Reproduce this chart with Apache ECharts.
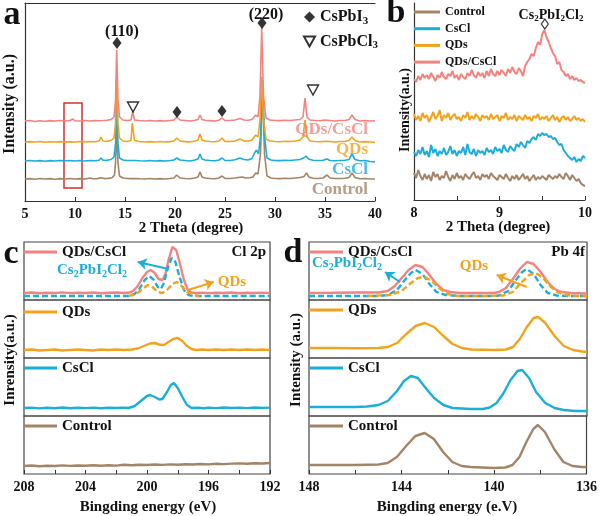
<!DOCTYPE html>
<html><head><meta charset="utf-8">
<script src="https://cdn.jsdelivr.net/npm/echarts@6/dist/echarts.min.js"></script>
<style>html,body{margin:0;padding:0;background:#fff}#main{width:600px;height:516px}</style>
</head><body><div id="main"></div>
<script>
// ---------- Panel a: XRD (2 Theta, raw height above each trace's baseline) ----------
const aNames = ['Control', 'CsCl', 'QDs', 'QDs/CsCl'];
const aOffsets = [22, 40, 59, 80];
const aControl = [[5,0],[5.5,0.4],[6,-0.3],[6.5,0.5],[7,0],[7.5,0.4],[8,-0.2],[8.5,0.4],[9,0],[9.5,0.5],[10,0],[10.5,0.4],[11,0],[11.5,1],[11.8,0.2],[12.2,0.4],[12.6,1.2],[12.9,0.4],[13.3,0.6],[13.7,1.2],[13.95,4],[14.05,16],[14.17,50],[14.3,16],[14.45,3],[14.8,1],[15.2,0.5],[15.6,0.4],[16,0.5],[16.5,0.2],[17,0],[17.5,0.5],[18,0],[18.5,0.4],[19,0],[19.5,0.5],[19.9,1],[20.17,4],[20.5,1],[21,0.5],[21.5,0.2],[22,1],[22.3,2],[22.5,7],[22.7,2],[23,1],[23.5,0.5],[24,0.2],[24.4,1],[24.7,3],[25,0.6],[25.5,0.5],[26,1],[26.7,2],[27.1,1],[27.5,1.2],[27.8,2],[28.07,6],[28.3,5],[28.55,25],[28.75,92],[28.95,25],[29.2,3],[29.6,1],[30,0.5],[30.5,0.4],[31,0.8],[31.5,0.5],[32,1],[32.5,1.5],[32.9,2.5],[33.15,6],[33.4,2],[33.8,0.8],[34.3,0.5],[34.8,1],[35.2,4],[35.5,1],[36,0.5],[36.5,0.5],[37,0.8],[37.4,1.5],[37.7,6],[38.0,1.5],[38.5,0.3],[39,0.5],[39.5,0],[40,0]];
const aCsCl = [[5,0],[5.5,0.5],[6,0],[6.5,0.4],[7,-0.3],[7.5,0.4],[8,0],[8.5,0.5],[9,0.2],[9.5,0.4],[10,0],[10.5,0.5],[11,0],[11.5,0.5],[12,0.3],[12.4,0.8],[12.6,3],[12.8,0.8],[13.2,0.8],[13.6,1.5],[13.9,4],[14.05,17],[14.17,55],[14.3,17],[14.45,3],[14.8,1],[15.2,0.5],[15.6,0.5],[16,0.5],[16.5,0.2],[17,0],[17.5,0.5],[18,0],[18.5,0.4],[19,0],[19.5,0.5],[19.9,1],[20.17,3],[20.5,1],[21,0.5],[21.5,0],[22,1],[22.3,2],[22.5,7],[22.7,2],[23,1],[23.5,0.5],[24,0.3],[24.4,1],[24.7,3],[25,0.5],[25.5,0.5],[26,1.2],[26.5,3],[26.9,1.5],[27.3,1],[27.7,2.5],[27.95,8],[28.15,11],[28.35,7],[28.55,25],[28.75,81],[28.95,25],[29.2,3],[29.6,1],[30,0.5],[30.5,0.4],[31,0.8],[31.5,0.5],[32,1],[32.5,1.5],[32.85,3],[33.1,5],[33.35,2],[33.8,0.8],[34.3,0.5],[34.8,0.8],[35.2,2],[35.5,0.5],[36,0.2],[36.5,0.5],[37,0.8],[37.4,1.5],[37.7,7],[38.0,1.5],[38.5,0.3],[39,0.5],[39.5,-0.5],[40,-1]];
const aQDs = [[5,0],[5.5,0.4],[6,0],[6.5,0.5],[7,-0.3],[7.5,0.3],[8,0],[8.5,0.4],[9,0],[9.5,0.3],[10,0],[10.5,0.5],[11,0],[11.5,0.5],[12,0.3],[12.4,1],[12.6,5],[12.8,1],[13.2,0.8],[13.6,1.5],[13.9,4],[14.05,18],[14.17,66],[14.3,18],[14.45,4],[14.8,1],[15.2,0.5],[15.6,1.5],[15.72,19],[15.82,19],[15.95,1.5],[16.4,0.5],[17,0],[17.5,0.4],[18,0],[18.5,0.5],[19,0],[19.5,0.4],[19.9,1],[20.17,4],[20.5,1],[21,0.4],[21.5,0],[22,1],[22.3,2],[22.5,8],[22.7,2],[23,1],[23.5,0.5],[24,0.3],[24.4,1],[24.7,4],[25,0.5],[25.5,0.5],[26,1],[26.5,3],[26.9,1],[27.3,1],[27.7,2],[28.07,7],[28.3,5],[28.5,22],[28.67,65],[28.85,22],[29.1,3],[29.5,1],[30,0.5],[30.5,0.3],[31,0.8],[31.5,0.5],[32,1],[32.5,2],[32.8,5],[33.0,22],[33.2,5],[33.5,1],[34,0.5],[34.5,0.3],[35,0.8],[35.2,1.5],[35.5,0.5],[36,0],[36.5,0.5],[37,0.5],[37.4,1.5],[37.7,5],[38.0,1.5],[38.5,0],[39,0.4],[39.5,0],[40,-0.5]];
const aQDsCsCl = [[5,0],[5.5,0.5],[6,-0.5],[6.5,0.3],[7,-0.3],[7.5,0.4],[8,0],[8.5,0.5],[9,0],[9.5,0.4],[9.75,2],[10,0.3],[10.5,0],[11,0.5],[11.5,0],[12,0.4],[12.4,0.3],[12.6,2],[12.8,0.5],[13.2,0.8],[13.6,1.5],[13.9,4],[14.05,20],[14.17,71],[14.3,20],[14.45,4],[14.8,1],[15.2,0.5],[15.6,1],[15.77,9],[15.95,1],[16.4,0.5],[17,0],[17.5,0.5],[18,0],[18.5,0.4],[19,0],[19.5,0.5],[19.9,1],[20.17,4],[20.5,1],[21,0.5],[21.5,0],[22,0.8],[22.3,1.5],[22.5,6],[22.7,1.5],[23,0.8],[23.5,0.4],[24,0],[24.4,0.8],[24.7,3],[25,0.5],[25.5,0.5],[26,1],[26.5,2.5],[26.9,1],[27.3,0.8],[27.7,1.5],[28.07,6],[28.3,4],[28.5,25],[28.67,93],[28.85,25],[29.1,3],[29.5,1],[30,0.5],[30.5,0.4],[31,0.8],[31.5,0.5],[32,1],[32.5,1.5],[32.8,4],[33.0,23],[33.2,4],[33.5,1],[34,0.5],[34.5,0.3],[35,1],[35.2,2],[35.5,0.5],[36,0],[36.5,0.5],[37,0.5],[37.4,1.5],[37.7,6],[38.0,1.5],[38.5,0],[39,0.5],[39.5,0],[40,0.3]];
const aCurves = [aControl, aCsCl, aQDs, aQDsCsCl];
const aXTicks = [5, 10, 15, 20, 25, 30, 35, 40];
// phase markers (2 Theta, height) and red box
const aCsPbI3 = [[14.2,158],[28.7,178],[20.2,89],[24.7,90]];
const aCsPbCl3 = [[15.8,94],[33.8,111]];
const aBox = [[8.9,13],[10.7,98]];
const aEndLabels = [[39.3,11,'Control'],[39.3,31,'CsCl'],[39.3,51,'QDs'],[39.3,71,'QDs/CsCl']];

// ---------- Panel b: zoomed XRD 8-10 degree ----------
const bStart = 8, bStep = 0.025;
const bControl = [27,22,30,24,20,26,21,25,19,28,23,26,20,24,22,29,23,19,25,21,27,22,24,20,26,23,21,25,28,22,24,20,26,23,25,21,27,24,22,20,25,23,21,26,22,19,24,21,25,20,23,26,21,24,19,22,25,20,23,21,24,22,20,25,23,21,24,22,26,23,21,27,24,20,25,22,19,21,17,15,14];
const bCsCl = [48,44,50,46,53,45,49,43,55,47,51,44,49,46,52,45,48,54,46,50,44,49,47,53,45,56,48,46,51,44,50,47,49,45,52,48,50,46,53,49,51,47,55,50,48,54,51,49,56,53,58,55,52,59,57,61,63,60,66,64,67,65,66,63,64,61,62,58,55,56,50,47,44,42,40,43,38,41,39,44,42];
const bQDs = [86,80,84,79,87,82,85,78,83,88,81,84,90,79,85,82,87,80,84,86,81,83,79,85,82,88,80,84,81,86,83,79,85,82,84,80,86,81,83,85,79,84,82,87,80,83,81,85,79,84,82,80,85,81,83,79,84,82,86,80,83,81,84,79,82,85,80,83,78,82,84,80,83,79,81,84,80,82,79,81,78];
const bQDsCsCl = [121,118,124,120,126,122,125,121,127,123,119,125,122,128,123,121,126,124,129,122,125,120,126,123,121,127,124,130,125,122,128,124,127,122,129,124,131,126,124,129,125,130,127,124,131,127,133,128,126,132,129,124,134,138,141,146,144,152,158,155,166,170,163,158,152,147,144,136,138,130,128,124,126,121,124,120,122,119,120,118,117];
const bCurves = [bControl, bCsCl, bQDs, bQDsCsCl];
const bMarker = [[9.53,176]];

// ---------- Panel c: Cl 2p XPS ----------
const cQDsCsCl = [[208,7],[207.5,7.5],[207,6.8],[206.5,7.3],[206,7],[205.5,7.6],[205,6.9],[204.5,7.3],[204,7],[203.5,7.5],[203,6.8],[202.5,7.2],[202,7.5],[201.5,7],[201.2,7.2],[200.9,9],[200.6,14],[200.3,22],[200.0,28],[199.75,30],[199.5,27],[199.25,21],[199.0,20],[198.8,26],[198.6,40],[198.35,53],[198.1,50],[197.85,36],[197.6,20],[197.35,10],[197.1,7.5],[196.8,7],[196.4,7.4],[196,6.9],[195.5,7.3],[195,7],[194.5,7.5],[194,6.8],[193.5,7.3],[193,7],[192.5,7.4],[192,7]];
const cFitCs = [[208,4],[201.2,4],[200.8,6],[200.5,11],[200.15,20],[199.85,24],[199.55,20],[199.3,13],[199.1,11],[198.9,17],[198.65,32],[198.4,42],[198.15,38],[197.9,24],[197.6,10],[197.3,5],[197.0,4],[192,4]];
const cFitQDs = [[201.2,4],[200.7,6],[200.3,11],[199.95,15],[199.65,13],[199.3,8],[199.0,7],[198.7,10],[198.35,16],[198.05,18],[197.75,14],[197.4,8],[197.0,5],[196.6,4]];
const cQDs = [[208,8],[207.5,8.5],[207,7.5],[206.5,8],[206,8.5],[205.5,7.5],[205,8],[204.5,8.5],[204,8],[203.5,7.5],[203,8.5],[202.5,8],[202,8.5],[201.5,8],[201,8.5],[200.6,9.5],[200.2,12],[199.8,14.5],[199.5,15],[199.2,13.5],[198.9,13],[198.6,16],[198.3,19],[198.0,20],[197.7,17],[197.4,12],[197.1,9],[196.8,8],[196.4,8.5],[196,8],[195.5,8.5],[195,8],[194.5,8.5],[194,8],[193.5,8.5],[193,8],[192.5,8.5],[192,8]];
const cCsCl = [[208,8],[207.5,8.4],[207,7.6],[206.5,8.2],[206,7.8],[205.5,8.5],[205,7.7],[204.5,8.3],[204,7.9],[203.5,8.4],[203,7.8],[202.5,8.3],[202,8],[201.5,8.4],[201.2,8],[200.8,10],[200.4,15],[200.0,20],[199.8,21],[199.5,19],[199.2,16.5],[199.0,17],[198.7,24],[198.45,31],[198.25,33],[198.0,28],[197.7,19],[197.4,11],[197.1,8],[196.7,8.3],[196.3,7.8],[196,8.4],[195.5,7.9],[195,8.5],[194.5,8],[194,8.4],[193.5,7.9],[193,8.5],[192.5,8.1],[192,8.4]];
const cControl = [[208,8],[207.5,8.5],[207,7.8],[206.5,8.3],[206,8],[205.5,8.6],[205,8.1],[204.5,8.5],[204,8.2],[203.5,8.8],[203,8.3],[202.5,8.7],[202,8.4],[201.5,9.2],[201,8.8],[200.5,9.3],[200,9],[199.5,9.5],[199,9.1],[198.5,9.6],[198,9.3],[197.5,9.8],[197,9.5],[196.5,10],[196,9.6],[195.5,10.2],[195,9.9],[194.5,10.4],[194,10.6],[193.5,10.2],[193,10.8],[192.5,10.5],[192,11]];
const cArrowCs = [[198.6,31],[200.6,38]];
const cArrowQDs = [[197.35,10],[195.65,18]];

// ---------- Panel d: Pb 4f XPS ----------
const dQDsCsCl = [[148,7],[147,7.2],[146,7.5],[145,7.5],[144.6,9],[144.3,14],[144.0,22],[143.7,30],[143.4,35],[143.1,33],[142.8,25],[142.5,16],[142.2,10],[141.9,8],[141.5,7],[141,7],[140.5,7],[140,7],[139.8,8],[139.5,12],[139.2,21],[138.9,31],[138.6,38],[138.3,36],[138.0,28],[137.7,18],[137.4,11],[137.1,8],[136.7,7],[136,6.5]];
const dFitCs = [[148,4],[146,4],[145,4],[144.6,5],[144.2,10],[143.9,19],[143.6,27],[143.4,30],[143.1,26],[142.8,16],[142.5,8],[142.1,5],[141.5,4],[140,4],[139.8,4.5],[139.4,9],[139.1,19],[138.8,28],[138.6,31],[138.3,26],[138.0,15],[137.7,7],[137.3,4.5],[136.8,4],[136,4]];
const dFitQDs = [[145.5,4],[144.5,5],[144.0,9],[143.6,17],[143.3,22],[143.0,23],[142.7,19],[142.4,12],[142.0,6],[141.6,4],[140.5,4],[139.6,4.5],[139.2,8],[138.9,16],[138.5,25],[138.2,27],[137.9,22],[137.6,14],[137.3,8],[136.9,5],[136.5,4],[136,4]];
const dQDs = [[148,10],[147,10],[146,9.8],[145,10],[144.6,11],[144.2,15],[143.8,24],[143.4,32],[143.0,35],[142.6,31],[142.2,22],[141.8,14],[141.4,10],[141,8.5],[140,8],[139.5,8.5],[139.2,11],[138.9,19],[138.6,31],[138.3,40],[138.1,41],[137.8,35],[137.4,22],[137.0,12],[136.6,8],[136.2,6.5],[136,6]];
const dCsCl = [[148,9],[147,9],[146,9],[145.5,9.5],[145,11],[144.6,15],[144.2,25],[143.9,35],[143.6,40],[143.3,38],[143.0,29],[142.6,18],[142.2,11],[141.8,8],[141,7],[140.5,7],[140.2,8.5],[139.9,13],[139.6,23],[139.3,36],[139.0,45],[138.8,46],[138.5,38],[138.2,24],[137.8,13],[137.4,8],[137,6],[136.5,5],[136,5]];
const dControl = [[148,9],[147,9],[146,9],[145,9.5],[144.6,11],[144.2,17],[143.8,28],[143.4,38],[143.0,41],[142.6,35],[142.2,22],[141.8,12],[141.4,8],[141,7],[140,6],[139.5,6.5],[139.2,9],[138.9,17],[138.6,32],[138.3,45],[138.1,49],[137.8,42],[137.4,25],[137.0,12],[136.6,8],[136.2,7],[136,7]];
const dArrowCs = [[144.07,18],[144.72,28]];
const dArrowQDs = [[138.6,13],[139.9,25]];

// ---------- styling ----------
const FONT = '"Liberation Serif","Times New Roman",serif';
const COL = {'Control':'#A48467','CsCl':'#1AAEDD','QDs':'#F2A31B','QDs/CsCl':'#F4837F'};
const RED = '#D42F2F';
const AX = '#333';
// rich styles for ECharts components (use "color")
function richStyle(color, size) {
  return {
    n: {fontFamily: FONT, fontWeight: 'bold', fontSize: size, lineHeight: size + 3, color: color},
    s: {fontFamily: FONT, fontWeight: 'bold', fontSize: Math.round(size * 0.66), lineHeight: Math.round(size * 0.66), verticalAlign: 'bottom', color: color}
  };
}
// rich styles for graphic text (zrender uses "fill")
function richFill(color, size) {
  return {
    n: {fontFamily: FONT, fontWeight: 'bold', fontSize: size, lineHeight: size + 3, fill: color},
    s: {fontFamily: FONT, fontWeight: 'bold', fontSize: Math.round(size * 0.66), lineHeight: Math.round(size * 0.66), verticalAlign: 'bottom', fill: color}
  };
}

const grids = [
  {left: 25, top: 3, width: 350, height: 198},
  {left: 414, top: 3, width: 171, height: 197}
];
const subTops = [242, 300, 358, 416];
subTops.forEach(t => grids.push({left: 24, top: t, width: 246, height: 58, show: true, borderColor: '#444', borderWidth: 1.2}));
subTops.forEach(t => grids.push({left: 309, top: t, width: 278, height: 58, show: true, borderColor: '#444', borderWidth: 1.2}));

const tickLab = {fontFamily: FONT, fontWeight: 'bold', fontSize: 14, color: '#111', margin: 6};
const xAxes = [
  {gridIndex: 0, type: 'value', min: 5, max: 40, interval: 5, axisLine: {lineStyle: {color: AX, width: 1.2}}, axisTick: {inside: true, length: 4, lineStyle: {color: AX}}, axisLabel: tickLab, splitLine: {show: false}},
  {gridIndex: 0, type: 'value', position: 'top', min: 5, max: 40, axisLine: {lineStyle: {color: AX, width: 1.2}}, axisTick: {show: false}, axisLabel: {show: false}, splitLine: {show: false}},
  {gridIndex: 1, type: 'value', min: 8, max: 10, interval: 0.5, axisLine: {lineStyle: {color: AX, width: 1.2}}, axisTick: {inside: true, length: 4, lineStyle: {color: AX}}, axisLabel: Object.assign({formatter: v => (v % 1 === 0 ? String(v) : '')}, tickLab), splitLine: {show: false}}
];
for (let i = 0; i < 4; i++) {
  const last = i === 3;
  xAxes.push({gridIndex: 2 + i, type: 'value', inverse: true, min: 192, max: 208, interval: 2, axisLine: {show: false},
    axisTick: {show: last, inside: true, length: 4, lineStyle: {color: AX}},
    axisLabel: Object.assign({show: last, formatter: v => (v % 4 === 0 ? String(v) : '')}, tickLab), splitLine: {show: false}});
}
for (let i = 0; i < 4; i++) {
  const last = i === 3;
  xAxes.push({gridIndex: 6 + i, type: 'value', inverse: true, min: 136, max: 148, interval: 2, axisLine: {show: false},
    axisTick: {show: last, inside: true, length: 4, lineStyle: {color: AX}},
    axisLabel: Object.assign({show: last, formatter: v => (v % 4 === 0 ? String(v) : '')}, tickLab), splitLine: {show: false}});
}
const yAxes = [
  {gridIndex: 0, type: 'value', min: 0, max: 198, axisLine: {show: true, lineStyle: {color: AX, width: 1.2}}, axisTick: {show: false}, axisLabel: {show: false}, splitLine: {show: false}},
  {gridIndex: 1, type: 'value', min: 0, max: 197, axisLine: {show: true, lineStyle: {color: AX, width: 1.2}}, axisTick: {show: false}, axisLabel: {show: false}, splitLine: {show: false}}
];
for (let i = 0; i < 8; i++) {
  yAxes.push({gridIndex: 2 + i, type: 'value', min: 0, max: 58, axisLine: {show: false}, axisTick: {show: false}, axisLabel: {show: false}, splitLine: {show: false}});
}

function lineSeries(name, data, xi, yi, color, width, dashed, z) {
  return {type: 'line', name: name, data: data, xAxisIndex: xi, yAxisIndex: yi, symbol: 'none', silent: true,
    lineStyle: {color: color, width: width, type: dashed ? [6, 3] : 'solid'}, itemStyle: {color: color}, z: z || 2};
}
function arrow(coords, xi, yi, color) {
  return {type: 'lines', coordinateSystem: 'cartesian2d', xAxisIndex: xi, yAxisIndex: yi, symbol: ['none', 'arrow'], symbolSize: 9, silent: true, z: 6,
    lineStyle: {color: color, width: 2, opacity: 1}, data: [{coords: coords}]};
}

const series = [];
// panel b (first so legend icons come from here)
bCurves.forEach((arr, k) => {
  series.push(lineSeries(aNames[k], arr.map((v, i) => [bStart + i * bStep, v]), 2, 1, COL[aNames[k]], 2, false, 2 + k));
});
// panel a
aCurves.forEach((arr, k) => {
  series.push(lineSeries(aNames[k] + ' ', arr.map(p => [p[0], p[1] + aOffsets[k]]), 0, 0, COL[aNames[k]], 1.6, false, 2 + k));
});
series.push({type: 'scatter', name: 'CsPbI3', xAxisIndex: 0, yAxisIndex: 0, symbol: 'diamond', symbolSize: [9, 12], itemStyle: {color: '#000'}, data: aCsPbI3, z: 8, silent: true});
series.push({type: 'scatter', name: 'CsPbCl3', xAxisIndex: 0, yAxisIndex: 0, symbol: 'path://M0,0L10,0L5,9Z', symbolSize: [11, 10], itemStyle: {color: '#fff', borderColor: '#000', borderWidth: 1.4}, data: aCsPbCl3, z: 8, silent: true});
series.push({type: 'scatter', name: 'labels-a', xAxisIndex: 0, yAxisIndex: 0, symbolSize: 0, silent: true, z: 9,
  data: aEndLabels.map(p => ({value: [p[0], p[1]], label: {show: true, position: 'left', distance: 0, formatter: p[2], color: COL[p[2]], fontFamily: FONT, fontWeight: 'bold', fontSize: 17}})),
  markArea: {silent: true, itemStyle: {color: 'rgba(0,0,0,0)', borderColor: RED, borderWidth: 1.5}, data: [[{coord: aBox[0]}, {coord: aBox[1]}]]}
});
series.push({type: 'scatter', name: 'b-marker', xAxisIndex: 2, yAxisIndex: 1, symbol: 'diamond', symbolSize: [7, 10], itemStyle: {color: '#fff', borderColor: '#000', borderWidth: 1.2}, data: bMarker, z: 8, silent: true});
// panel c
series.push(lineSeries('cs-fit-c', cFitCs, 3, 2, COL['CsCl'], 2.4, true, 4));
series.push(lineSeries('qd-fit-c', cFitQDs, 3, 2, COL['QDs'], 2.4, true, 5));
series.push(lineSeries('QDs/CsCl', cQDsCsCl, 3, 2, COL['QDs/CsCl'], 2.4, false, 3));
series.push(lineSeries('QDs', cQDs, 4, 3, COL['QDs'], 2.4));
series.push(lineSeries('CsCl', cCsCl, 5, 4, COL['CsCl'], 2.4));
series.push(lineSeries('Control', cControl, 6, 5, COL['Control'], 2.4));
series.push(arrow(cArrowCs, 3, 2, COL['CsCl']));
series.push(arrow(cArrowQDs, 3, 2, COL['QDs']));
// panel d
series.push(lineSeries('QDs/CsCl', dQDsCsCl, 7, 6, COL['QDs/CsCl'], 2.4, false, 3));
series.push(lineSeries('cs-fit-d', dFitCs, 7, 6, COL['CsCl'], 2.4, true, 4));
series.push(lineSeries('qd-fit-d', dFitQDs, 7, 6, COL['QDs'], 2.4, true, 5));
series.push(lineSeries('QDs', dQDs, 8, 7, COL['QDs'], 2.4));
series.push(lineSeries('CsCl', dCsCl, 9, 8, COL['CsCl'], 2.4));
series.push(lineSeries('Control', dControl, 10, 9, COL['Control'], 2.4));
series.push(arrow(dArrowCs, 7, 6, COL['CsCl']));
series.push(arrow(dArrowQDs, 7, 6, COL['QDs']));

const legTxt = {fontFamily: FONT, fontWeight: 'bold', fontSize: 15, color: '#111', lineHeight: 18};
function subLegend(name, left, top) {
  return {data: [{name: name, icon: 'rect'}], left: left, top: top, itemWidth: 34, itemHeight: 3, itemGap: 4, selectedMode: false, textStyle: legTxt, padding: 0};
}
const legends = [
  {data: [{name: 'CsPbI3', icon: 'diamond'}, {name: 'CsPbCl3', icon: 'path://M0,0L10,0L5,9Z'}], orient: 'vertical', left: 303, top: 9, itemWidth: 11, itemHeight: 11, itemGap: 7, padding: 0, selectedMode: false,
    formatter: n => (n === 'CsPbI3' ? '{n|CsPbI}{s|3}' : '{n|CsPbCl}{s|3}'), textStyle: {rich: richStyle('#111', 16)}},
  {data: ['Control', 'CsCl', 'QDs', 'QDs/CsCl'].map(n => ({name: n, icon: 'rect'})), orient: 'vertical', left: 414, top: 5, itemWidth: 26, itemHeight: 3, itemGap: 2.7, padding: 0, selectedMode: false,
    textStyle: {fontFamily: FONT, fontWeight: 'bold', fontSize: 12, color: '#111', lineHeight: 14}},
  subLegend('QDs/CsCl', 23, 243), subLegend('QDs', 23, 303), subLegend('CsCl', 23, 359), subLegend('Control', 23, 417),
  subLegend('QDs/CsCl', 309, 243), subLegend('QDs', 309, 301), subLegend('CsCl', 309, 359), subLegend('Control', 309, 417)
];

function txt(text, x, y, size, opts) {
  opts = opts || {};
  return {type: 'text', x: x, y: y, rotation: opts.rot || 0, z: 100,
    style: {text: text, fill: opts.color || '#111', font: 'bold ' + size + 'px ' + FONT, align: opts.align || 'center', verticalAlign: 'middle', rich: opts.rich}};
}
const graphics = [
  txt('a', 12, 15, 34), txt('b', 396, 13, 34), txt('c', 11, 254, 34), txt('d', 293, 253, 34),
  txt('(110)', 122, 32, 16), txt('(220)', 266, 15, 16),
  txt('2 Theta (degree)', 191, 228, 15), txt('2 Theta (degree)', 498, 227, 15),
  txt('Bingding energy (eV)', 148, 507, 15), txt('Bingding energy (e.V)', 447, 507, 15),
  txt('Intensity (a.u.)', 10, 104, 16, {rot: Math.PI / 2}),
  txt('Intensity(a.u.)', 405, 110, 14, {rot: Math.PI / 2}),
  txt('Inrensity(a.u.)', 10, 360, 15, {rot: Math.PI / 2}),
  txt('Intensity (a.u.)', 296, 360, 15, {rot: Math.PI / 2}),
  txt('{n|Cs}{s|2}{n|PbI}{s|2}{n|Cl}{s|2}', 551, 15, 14, {rich: richFill('#111', 14)}),
  txt('Cl 2p', 266, 252, 15, {align: 'right'}), txt('Pb 4f', 585, 252, 15, {align: 'right'}),
  txt('{n|Cs}{s|2}{n|PbI}{s|2}{n|Cl}{s|2}', 92, 270, 15, {color: COL['CsCl'], rich: richFill(COL['CsCl'], 15)}),
  txt('QDs', 232, 282, 15, {color: COL['QDs']}),
  txt('{n|Cs}{s|2}{n|PbI}{s|2}{n|Cl}{s|2}', 347, 263, 15, {color: COL['CsCl'], rich: richFill(COL['CsCl'], 15)}),
  txt('QDs', 474, 266, 15, {color: COL['QDs']})
];

const chart = echarts.init(document.getElementById('main'), null, {renderer: 'canvas'});
chart.setOption({
  animation: false,
  backgroundColor: '#fff',
  grid: grids,
  xAxis: xAxes,
  yAxis: yAxes,
  legend: legends,
  series: series,
  graphic: graphics
});
</script></body></html>
